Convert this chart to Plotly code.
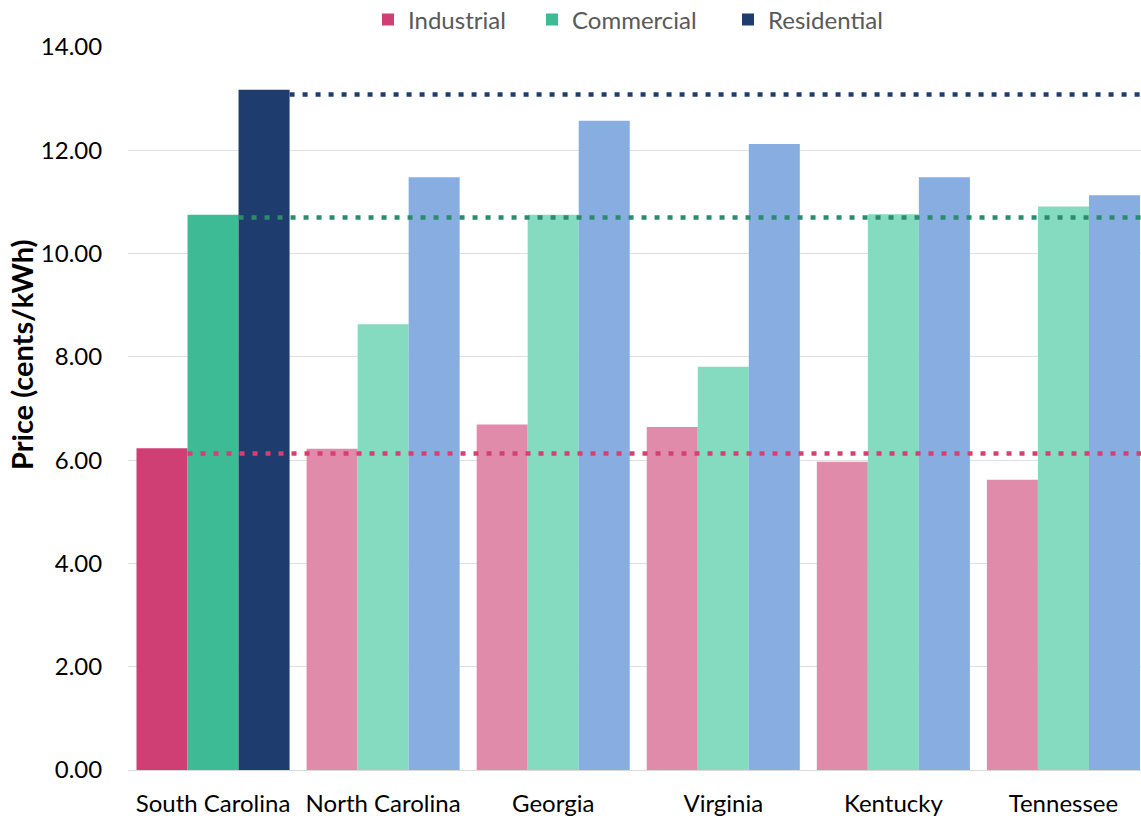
import plotly.graph_objects as go

states = ["South Carolina", "North Carolina", "Georgia", "Virginia", "Kentucky", "Tennessee"]
industrial = [6.23, 6.22, 6.69, 6.64, 5.97, 5.62]
commercial = [10.75, 8.63, 10.75, 7.81, 10.76, 10.91]
residential = [13.17, 11.48, 12.57, 12.12, 11.48, 11.13]
# South Carolina reference levels (dotted lines)
sc_reference = {"Industrial": 6.13, "Commercial": 10.70, "Residential": 13.08}
y_ticks = [0, 2, 4, 6, 8, 10, 12, 14]
y_title = "Price (cents/kWh)"

series = [
    ("Industrial", industrial, "#CF3F74", "#E18BAB", "#D6406F"),
    ("Commercial", commercial, "#3CBB94", "#84DBC0", "#2A8C6C"),
    ("Residential", residential, "#1F3C6E", "#88ADE1", "#1F3C6E"),
]
legend_ids = ["legend", "legend2", "legend3"]
legend_x_px = [368, 532, 728]

FONT = "Lato"
fig = go.Figure()
for (name, vals, strong, light, _), lid in zip(series, legend_ids):
    colors = [strong] + [light] * (len(states) - 1)
    fig.add_trace(go.Bar(
        name=name, x=states, y=vals, legend=lid,
        marker=dict(color=colors, line=dict(width=0)),
    ))

x_end = 5.456
offsets = [-0.15, 0.15, 0.45]
for (name, vals, strong, light, lc), x0 in zip(series, offsets):
    fig.add_shape(type="line", xref="x", yref="y",
                  x0=x0, x1=x_end + 0.2, y0=sc_reference[name], y1=sc_reference[name],
                  line=dict(color=lc, width=4.5, dash="5px,8px"), layer="above")

legend_common = dict(orientation="h", xanchor="left",
                     xref="container", yref="container", y=1 - 20 / 818, yanchor="middle",
                     font=dict(family=FONT, size=24, color="#595959"),
                     bgcolor="rgba(0,0,0,0)")
layout_legends = {}
for lid, px in zip(legend_ids, legend_x_px):
    layout_legends[lid] = dict(legend_common, x=px / 1141)

fig.update_layout(
    width=1141, height=818,
    margin=dict(l=128, r=0, t=47, b=48, autoexpand=False),
    paper_bgcolor="white", plot_bgcolor="white",
    barmode="group", bargap=0.1, bargroupgap=0,
    font=dict(family=FONT, size=24, color="#000000"),
    showlegend=True,
    **layout_legends,
)
fig.update_xaxes(
    type="category", range=[-0.5, x_end],
    showgrid=False, showline=True, linecolor="#D9D9D9", linewidth=1,
    ticks="outside", ticklen=12, tickcolor="rgba(0,0,0,0)",
    tickfont=dict(family=FONT, size=24, color="#000000"),
)
fig.update_yaxes(
    range=[0, 14], tickvals=y_ticks, tickformat=".2f",
    showgrid=True, gridcolor="#E0E0E0", gridwidth=1,
    zeroline=False, showline=False,
    ticks="outside", ticklen=20, tickcolor="rgba(0,0,0,0)",
    tickfont=dict(family=FONT, size=24, color="#000000"),
)
fig.add_annotation(
    text="<b>" + y_title + "</b>", textangle=-90,
    xref="paper", yref="paper", x=(21 - 128) / 1013, y=(770 - 355) / 723,
    xanchor="center", yanchor="middle", showarrow=False,
    font=dict(family=FONT, size=29, color="#000000"),
)

fig.write_html("out.html")
